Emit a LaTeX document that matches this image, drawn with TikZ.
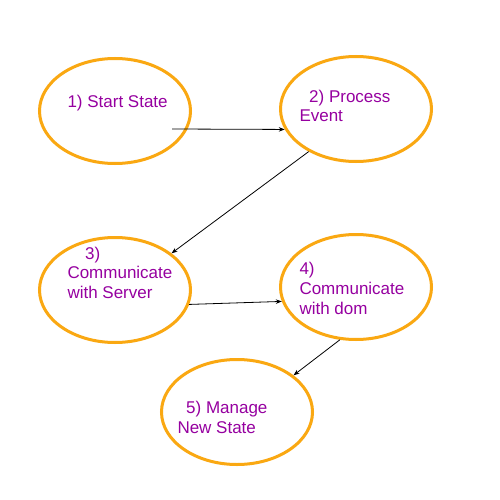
\documentclass[tikz,border=0pt]{standalone}
\usepackage{fontspec}
\setmainfont{Liberation Sans}
\usetikzlibrary{shapes.geometric,arrows.meta,calc}
\definecolor{ringorange}{RGB}{250,168,18}
\definecolor{txtpurple}{RGB}{150,0,160}
\tikzset{
  statering/.style={ellipse, draw=ringorange, line width=3pt, minimum width=151pt, minimum height=105pt, inner sep=0pt},
  statetext/.style={anchor=base west, align=left, text=txtpurple, inner sep=0pt,
    font=\fontsize{17pt}{19.6pt}\selectfont},
  link/.style={draw=black, line width=0.8pt, -{Stealth[length=6pt,width=4.5pt]}}
}
\begin{document}
\begin{tikzpicture}[x=1pt,y=-1pt]
\useasboundingbox (0,0) rectangle (500,500);
\fill[white] (0,0) rectangle (500,500);
\node[statering] (e1) at (115,111) {};
\node[statering] (e2) at (356,109) {};
\node[statering] (e3) at (115,290) {};
\node[statering] (e4) at (356,287) {};
\node[statering] (e5) at (237,412) {};
\node[statetext] (t1) at (67.3,108) {1) Start State};
\node[statetext] (t2) at (299.3,121.7) {\hspace{9.7pt}2) Process\\Event};
\node[statetext] (t3) at (67.3,298.3) {\hspace{17.7pt}3)\\Communicate\\with Server};
\node[statetext] (t4) at (299.3,314) {4)\\Communicate\\with dom};
\node[statetext] (t5) at (177.3,433.3) {\hspace{8.7pt}5) Manage\\New State};
\coordinate (s1) at ($(e1.center)+(57,18)$);
\draw[link] (s1) -- (e2.196);
\draw[link] (e2.222) -- (e3.33);
\draw[link] (e3.-11) -- (e4.191);
\draw[link] (e4.253) -- (e5.33);
\end{tikzpicture}
\end{document}
